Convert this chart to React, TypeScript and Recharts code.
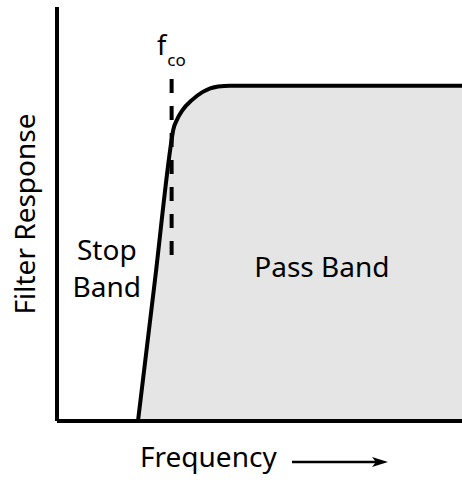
import React from "react";
import {
  ComposedChart,
  Area,
  XAxis,
  YAxis,
  ReferenceLine,
  ReferenceDot,
  Label,
} from "recharts";

// Filter response curve (frequency units 0..100, response units 0..100)
const freq = [20, 24.2, 28.3, 28.7, 29.6, 31, 33.3, 36, 39.8, 42.7, 100];
const response = [0, 34.1, 67.9, 70.3, 72.7, 75.1, 77.5, 79.5, 80.8, 81, 81];

// cutoff marker
const cutoffFreq = 28.3;
const cutoffRange = [40.1, 82.6];

// text labels
const fcoPos = { f: 24.7, r: 88.4 };
const stopPos = { f: 12.3, r1: 38.9, r2: 30.0 };
const passPos = { f: 65.4, r: 34.8 };
const xTitle = "Frequency";
const yTitle = "Filter Response";
const stopLines = ["Stop", "Band"];
const passText = "Pass Band";

const data = freq.map((f, i) => ({ f, r: response[i] }));

const FONT = "'Noto Sans', 'Open Sans', sans-serif";

const center = (vb: any) => ({
  cx: (vb?.x ?? 0) + (vb?.width ?? 0) / 2,
  cy: (vb?.y ?? 0) + (vb?.height ?? 0) / 2,
});

export default function App() {
  return (
    <div>
      <style>{`body{margin:0}`}</style>
      <ComposedChart
        width={462}
        height={482}
        data={data}
        margin={{ top: 7, right: 0, left: 0, bottom: 0 }}
      >
        <XAxis
          type="number"
          dataKey="f"
          domain={[0, 100]}
          tick={false}
          tickLine={false}
          axisLine={{ stroke: "#000", strokeWidth: 4 }}
          height={61}
        >
          <Label
            content={(props: any) => {
              const vb = props.viewBox || {};
              const x0 = vb.x + 83;
              const by = vb.y + 46;
              const ay = vb.y + 41;
              return (
                <g>
                  <text
                    x={x0}
                    y={by}
                    fontFamily={FONT}
                    fontSize={28}
                    fill="#000"
                  >
                    {xTitle}
                  </text>
                  <line
                    x1={vb.x + 235}
                    y1={ay}
                    x2={vb.x + 325}
                    y2={ay}
                    stroke="#000"
                    strokeWidth={2.5}
                  />
                  <path
                    d={`M ${vb.x + 331} ${ay} L ${vb.x + 315} ${ay - 5} L ${vb.x + 319} ${ay} L ${vb.x + 315} ${ay + 5} Z`}
                    fill="#000"
                  />
                </g>
              );
            }}
          />
        </XAxis>
        <YAxis
          type="number"
          domain={[0, 100]}
          tick={false}
          tickLine={false}
          axisLine={{ stroke: "#000", strokeWidth: 4 }}
          width={57}
        >
          <Label
            content={(props: any) => {
              const vb = props.viewBox || {};
              const cx = vb.x + 24;
              const cy = vb.y + vb.height / 2;
              return (
                <text
                  x={cx}
                  y={cy}
                  transform={`rotate(-90 ${cx} ${cy})`}
                  textAnchor="middle"
                  dominantBaseline="central"
                  fontFamily={FONT}
                  fontSize={28}
                  fill="#000"
                >
                  {yTitle}
                </text>
              );
            }}
          />
        </YAxis>
        <Area
          type="monotone"
          dataKey="r"
          stroke="#000"
          strokeWidth={4}
          fill="#e5e5e5"
          fillOpacity={1}
          isAnimationActive={false}
          dot={false}
          activeDot={false}
        />
        <ReferenceLine
          segment={[
            { x: cutoffFreq, y: cutoffRange[1] },
            { x: cutoffFreq, y: cutoffRange[0] },
          ]}
          stroke="#000"
          strokeWidth={4}
          strokeDasharray="14 13"
        />
        <ReferenceDot
          x={fcoPos.f}
          y={fcoPos.r}
          r={2}
          fill="none"
          stroke="none"
          label={(props: any) => {
            const { cx, cy } = center(props.viewBox);
            return (
              <text x={cx} y={cy} fontFamily={FONT} fontSize={27} fill="#000">
                f
                <tspan dx={1} dy={11} fontSize={17}>
                  co
                </tspan>
              </text>
            );
          }}
        />
        <ReferenceDot
          x={stopPos.f}
          y={stopPos.r1}
          r={2}
          fill="none"
          stroke="none"
          label={(props: any) => {
            const { cx, cy } = center(props.viewBox);
            return (
              <text
                x={cx}
                y={cy}
                textAnchor="middle"
                fontFamily={FONT}
                fontSize={28}
                fill="#000"
              >
                {stopLines[0]}
              </text>
            );
          }}
        />
        <ReferenceDot
          x={stopPos.f}
          y={stopPos.r2}
          r={2}
          fill="none"
          stroke="none"
          label={(props: any) => {
            const { cx, cy } = center(props.viewBox);
            return (
              <text
                x={cx}
                y={cy}
                textAnchor="middle"
                fontFamily={FONT}
                fontSize={28}
                fill="#000"
              >
                {stopLines[1]}
              </text>
            );
          }}
        />
        <ReferenceDot
          x={passPos.f}
          y={passPos.r}
          r={2}
          fill="none"
          stroke="none"
          label={(props: any) => {
            const { cx, cy } = center(props.viewBox);
            return (
              <text
                x={cx}
                y={cy}
                textAnchor="middle"
                fontFamily={FONT}
                fontSize={28}
                fill="#000"
              >
                {passText}
              </text>
            );
          }}
        />
      </ComposedChart>
    </div>
  );
}
